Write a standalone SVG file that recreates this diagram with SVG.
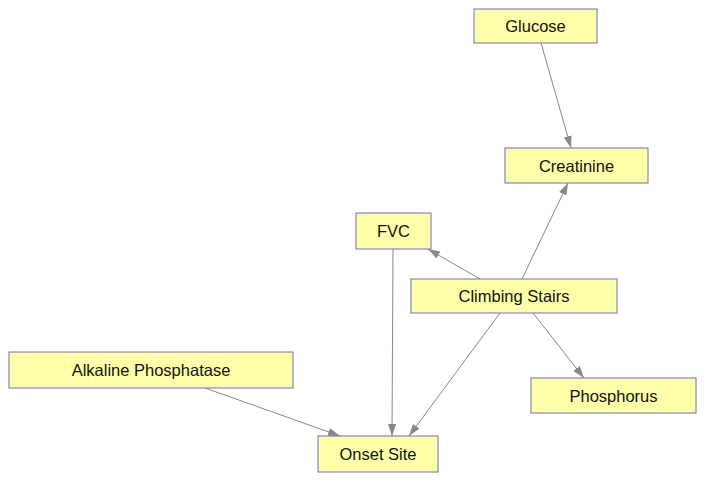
<svg xmlns="http://www.w3.org/2000/svg" width="708" height="483" viewBox="0 0 708 483">
<style>
.n rect{fill:#ffffaa;stroke:#6e6eb4;stroke-width:1}
.n text{font-family:"Liberation Sans",Arial,sans-serif;font-size:16.5px;fill:#111;text-anchor:middle;dominant-baseline:central}
.e line{stroke:#888;stroke-width:1;marker-end:url(#a)}
</style>
<defs>
<marker id="a" viewBox="0 0 12 8" refX="12" refY="4" markerWidth="12" markerHeight="8" markerUnits="userSpaceOnUse" orient="auto">
<path d="M0,0 L12,4 L0,8 Z" fill="#888"/>
</marker>
</defs>
<rect width="708" height="483" fill="#fff"/>
<g class="e" id="edges">
<line x1="541" y1="43" x2="571" y2="148"/>
<line x1="522" y1="279" x2="568" y2="183"/>
<line x1="480" y1="279" x2="428" y2="249"/>
<line x1="533" y1="313" x2="584" y2="378"/>
<line x1="500" y1="313" x2="409" y2="436"/>
<line x1="393" y1="249" x2="392" y2="436"/>
<line x1="205" y1="388" x2="340" y2="436"/>
</g>
<g class="n" id="glucose"><rect x="474" y="9" width="123" height="34"/><text x="535.5" y="26">Glucose</text></g>
<g class="n" id="creatinine"><rect x="505" y="148" width="143" height="35"/><text x="576.5" y="166">Creatinine</text></g>
<g class="n" id="fvc"><rect x="356" y="213" width="75" height="36"/><text x="393.5" y="231">FVC</text></g>
<g class="n" id="climbing"><rect x="411" y="279" width="206" height="34"/><text x="514" y="296">Climbing Stairs</text></g>
<g class="n" id="alkaline"><rect x="9" y="352" width="284" height="36"/><text x="151" y="370">Alkaline Phosphatase</text></g>
<g class="n" id="onset"><rect x="318" y="436" width="120" height="36"/><text x="378" y="454">Onset Site</text></g>
<g class="n" id="phosphorus"><rect x="531" y="378" width="165" height="35"/><text x="613.5" y="395.5">Phosphorus</text></g>
</svg>
